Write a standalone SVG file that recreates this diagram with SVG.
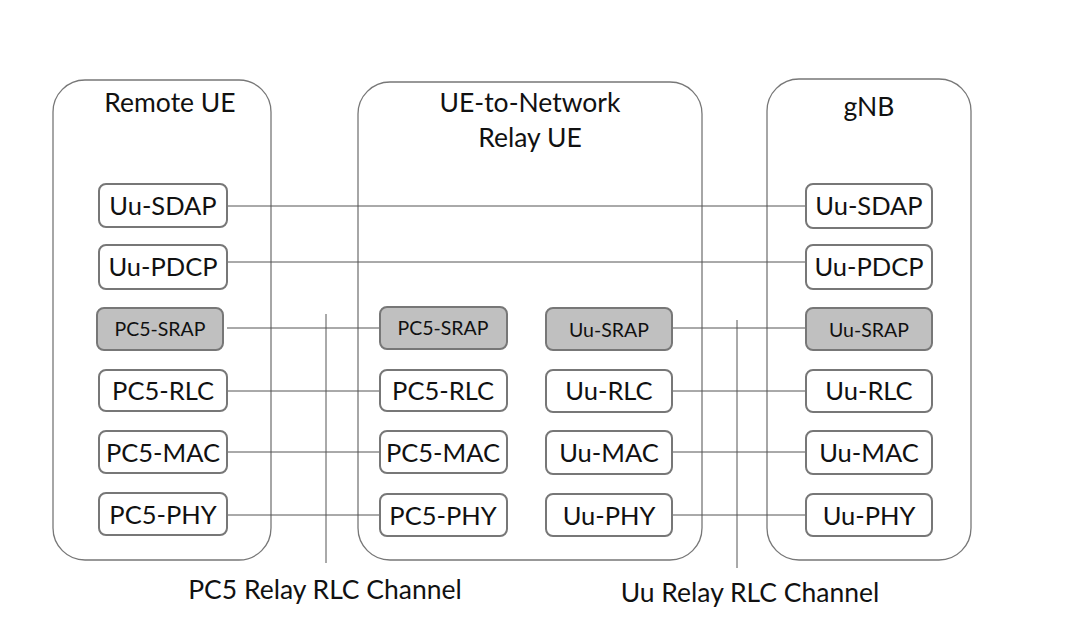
<svg xmlns="http://www.w3.org/2000/svg" width="1080" height="620" viewBox="0 0 1080 620">
<style>
.c{fill:#fff;stroke:#777;stroke-width:1.3}
.b{fill:#fff;stroke:#777;stroke-width:2}
.g{fill:#c0c0c0;stroke:#777;stroke-width:2}
.t{font-family:Lato,"Liberation Sans",sans-serif;font-size:25.5px;fill:#111;text-anchor:middle}
.s{font-family:Lato,"Liberation Sans",sans-serif;font-size:19.5px;fill:#111;text-anchor:middle}
.h{font-family:Lato,"Liberation Sans",sans-serif;font-size:26.5px;fill:#111;text-anchor:middle}
.l{stroke:#555;stroke-width:1;fill:none}
</style>
<rect width="1080" height="620" fill="#fff"/>
<g id="remote"><rect class="c" x="53" y="80" width="218" height="480" rx="32"/><text class="h" x="170" y="112">Remote UE</text></g>
<g id="relay"><rect class="c" x="358" y="82" width="344" height="478" rx="32"/><text class="h" x="530" y="112">UE-to-Network</text><text class="h" x="530" y="147">Relay UE</text></g>
<g id="gnb"><rect class="c" x="767" y="79" width="204" height="481" rx="32"/><text class="h" x="869" y="116">gNB</text></g>
<g id="connectors">
<line class="l" x1="227" y1="206" x2="806" y2="206"/>
<line class="l" x1="227" y1="262" x2="806" y2="262"/>
<line class="l" x1="227" y1="328" x2="380" y2="328"/>
<line class="l" x1="672" y1="328" x2="806" y2="328"/>
<line class="l" x1="227" y1="391" x2="380" y2="391"/>
<line class="l" x1="672" y1="391" x2="806" y2="391"/>
<line class="l" x1="227" y1="452" x2="380" y2="452"/>
<line class="l" x1="672" y1="452" x2="806" y2="452"/>
<line class="l" x1="227" y1="515" x2="380" y2="515"/>
<line class="l" x1="672" y1="515" x2="806" y2="515"/>
<line class="l" x1="326" y1="314" x2="326" y2="563"/>
<line class="l" x1="737" y1="320" x2="737" y2="568"/>
</g>
<g id="r-sdap"><rect class="b" x="99" y="184" width="128" height="43" rx="7"/><text class="t" x="163" y="215">Uu-SDAP</text></g>
<g id="r-pdcp"><rect class="b" x="99" y="245" width="128" height="44" rx="7"/><text class="t" x="163" y="276">Uu-PDCP</text></g>
<g id="r-srap"><rect class="g" x="97" y="308" width="126" height="42" rx="7"/><text class="s" x="160" y="336">PC5-SRAP</text></g>
<g id="r-rlc"><rect class="b" x="99" y="370" width="128" height="41" rx="7"/><text class="t" x="163" y="400">PC5-RLC</text></g>
<g id="r-mac"><rect class="b" x="99" y="431" width="128" height="42" rx="7"/><text class="t" x="163" y="462">PC5-MAC</text></g>
<g id="r-phy"><rect class="b" x="99" y="493" width="128" height="42" rx="7"/><text class="t" x="163" y="524">PC5-PHY</text></g>
<g id="m-srap"><rect class="g" x="380" y="307" width="127" height="42" rx="7"/><text class="s" x="443" y="335">PC5-SRAP</text></g>
<g id="m-rlc"><rect class="b" x="380" y="370" width="127" height="41" rx="7"/><text class="t" x="443" y="400">PC5-RLC</text></g>
<g id="m-mac"><rect class="b" x="380" y="431" width="127" height="42" rx="7"/><text class="t" x="443" y="462">PC5-MAC</text></g>
<g id="m-phy"><rect class="b" x="380" y="494" width="127" height="42" rx="7"/><text class="t" x="443" y="525">PC5-PHY</text></g>
<g id="u-srap"><rect class="g" x="546" y="308" width="126" height="42" rx="7"/><text class="s" x="609" y="337">Uu-SRAP</text></g>
<g id="u-rlc"><rect class="b" x="546" y="370" width="126" height="42" rx="7"/><text class="t" x="609" y="400">Uu-RLC</text></g>
<g id="u-mac"><rect class="b" x="546" y="431" width="126" height="43" rx="7"/><text class="t" x="609" y="462">Uu-MAC</text></g>
<g id="u-phy"><rect class="b" x="546" y="494" width="126" height="42" rx="7"/><text class="t" x="609" y="525">Uu-PHY</text></g>
<g id="g-sdap"><rect class="b" x="806" y="184" width="126" height="44" rx="7"/><text class="t" x="869" y="215">Uu-SDAP</text></g>
<g id="g-pdcp"><rect class="b" x="806" y="245" width="126" height="44" rx="7"/><text class="t" x="869" y="276">Uu-PDCP</text></g>
<g id="g-srap"><rect class="g" x="806" y="308" width="126" height="42" rx="7"/><text class="s" x="869" y="337">Uu-SRAP</text></g>
<g id="g-rlc"><rect class="b" x="806" y="370" width="126" height="42" rx="7"/><text class="t" x="869" y="400">Uu-RLC</text></g>
<g id="g-mac"><rect class="b" x="806" y="431" width="126" height="43" rx="7"/><text class="t" x="869" y="462">Uu-MAC</text></g>
<g id="g-phy"><rect class="b" x="806" y="494" width="126" height="42" rx="7"/><text class="t" x="869" y="525">Uu-PHY</text></g>
<text class="h" x="325" y="599">PC5 Relay RLC Channel</text>
<text class="h" x="750" y="602">Uu Relay RLC Channel</text>
</svg>
